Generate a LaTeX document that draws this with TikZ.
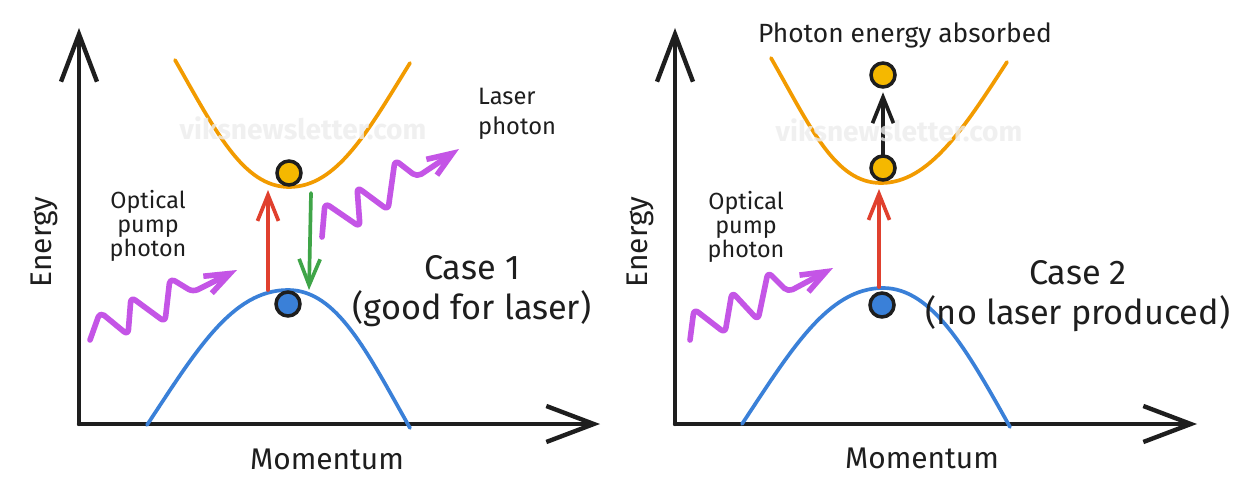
\documentclass[tikz,border=0pt]{standalone}
\usepackage{fontspec}
\setmainfont{Fira Sans}
\usetikzlibrary{arrows.meta}

\definecolor{ink}{HTML}{1E1E1E}
\definecolor{condorange}{HTML}{F29B00}
\definecolor{dotyellow}{HTML}{F5B800}
\definecolor{valblue}{HTML}{3A80D8}
\definecolor{pumpred}{HTML}{E0402E}
\definecolor{emitgreen}{HTML}{3FA548}
\definecolor{photonpurple}{HTML}{C455E6}

\tikzset{
  axisline/.style={ink, line width=2.5pt, line cap=round,
    -{Straight Barb[length=0.95cm, width=0.72cm]}},
  band/.style={line width=2.1pt, line cap=round},
  dot/.style={circle, draw=ink, line width=2pt, minimum size=0.48cm, inner sep=0pt},
  jump/.style={line width=2.1pt, line cap=round, -{Straight Barb[length=0.52cm, width=0.42cm]}},
  photon/.style={photonpurple, line width=3.2pt, line cap=round, line join=round,
    rounded corners=3pt, -{Straight Barb[length=0.5cm, width=0.38cm]}},
  bigtext/.style={ink, align=center, font=\fontsize{19.5}{23}\selectfont},
  axistext/.style={ink, font=\fontsize{17}{20}\selectfont},
  smalltext/.style={ink, align=center, font=\fontsize{13.3}{13.8}\selectfont},
  marktext/.style={black!7, opacity=0.8, font=\fontsize{16}{18}\selectfont\bfseries}
}

\begin{document}
\begin{tikzpicture}[x=0.02cm, y=-0.02cm]
    \path[use as bounding box, fill=white] (0, 0) rectangle (1253, 500);

    % case 1
    \coordinate (originL) at (79, 424);
    \coordinate (yendL) at (79, 28);
    \coordinate (xendL) at (600, 424);
    \draw[axisline] (originL) -- (yendL);
    \draw[axisline] (originL) -- (xendL);
    \node[axistext, rotate=90] (energyL) at (44, 242) {Energy};
    \node[axistext] (momentumL) at (327, 459) {Momentum};

    \draw[band, condorange] (175, 60) .. controls (215, 130) and (243, 187) .. (289, 187)
        .. controls (337, 187) and (368, 131) .. (410, 63);
    \draw[band, valblue] (147, 425) .. controls (196, 351) and (232, 290) .. (288, 290)
        .. controls (337, 290) and (367, 352) .. (410, 428);

    \node[dot, fill=dotyellow] (upperL) at (289, 173) {};
    \node[dot, fill=valblue] (lowerL) at (288, 304) {};

    \coordinate (redfootL) at (268, 290);
    \coordinate (redtipL) at (268, 190);
    \draw[jump, pumpred] (redfootL) -- (redtipL);
    \coordinate (greenfootL) at (311, 193);
    \coordinate (greentipL) at (309, 290);
    \draw[jump, emitgreen] (greenfootL) -- (greentipL);

    \coordinate (pumpstartL) at (90, 340);
    \coordinate (pumpendL) at (237, 270);
    \draw[photon] (pumpstartL) -- (100, 312) -- (128, 335) -- (131, 297) -- (165, 322)
        -- (170, 278) -- (193, 292) -- (pumpendL);
    \coordinate (laserstart) at (322, 237);
    \coordinate (laserend) at (459, 149);
    \draw[photon] (laserstart) -- (325, 203) -- (360, 227) -- (357, 187) -- (388, 210)
        -- (395, 160) -- (417, 177) -- (laserend);

    \node[smalltext] (pumptextL) at (148, 226) {Optical\\pump\\photon};
    \node[ink, align=left, anchor=west, font=\fontsize{13.5}{17}\selectfont] (lasertext)
        at (472, 114) {Laser\\photon};
    \node[bigtext] (caseone) at (472, 291) {Case 1\\(good for laser)};

    % case 2
    \coordinate (originR) at (675, 424);
    \coordinate (yendR) at (675, 28);
    \coordinate (xendR) at (1197, 424);
    \draw[axisline] (originR) -- (yendR);
    \draw[axisline] (originR) -- (xendR);
    \node[axistext, rotate=90] (energyR) at (640, 242) {Energy};
    \node[axistext] (momentumR) at (922, 458) {Momentum};

    \draw[band, condorange] (771, 58) .. controls (811, 128) and (835, 183) .. (881, 183)
        .. controls (929, 183) and (964, 128) .. (1007, 62);
    \draw[band, valblue] (742, 424) .. controls (791, 350) and (828, 288) .. (883, 288)
        .. controls (932, 288) and (967, 350) .. (1010, 427);

    \node[dot, fill=dotyellow] (topR) at (883, 75) {};
    \node[dot, fill=dotyellow] (upperR) at (883, 168) {};
    \node[dot, fill=valblue] (lowerR) at (882, 305) {};

    \coordinate (redfootR) at (879, 287);
    \coordinate (redtipR) at (879, 189);
    \draw[jump, pumpred] (redfootR) -- (redtipR);
    \draw[jump, ink, shorten >=2pt] (upperR.north) -- (topR.south);

    \coordinate (pumpstartR) at (690, 340);
    \coordinate (pumpendR) at (833, 268);
    \draw[photon] (pumpstartR) -- (694, 309) -- (725, 333) -- (732, 292) -- (758, 320)
        -- (768, 272) -- (788, 292) -- (pumpendR);

    \node[smalltext] (pumptextR) at (746, 227) {Optical\\pump\\photon};
    \node[ink, font=\fontsize{15}{18}\selectfont] (absorbtext) at (905, 35) {Photon energy absorbed};
    \node[bigtext] (casetwo) at (1078, 296) {Case 2\\(no laser produced)};

    % watermark
    \node[marktext] (markL) at (303, 128) {viksnewsletter.com};
    \node[marktext] (markR) at (899, 130) {viksnewsletter.com};
\end{tikzpicture}
\end{document}
